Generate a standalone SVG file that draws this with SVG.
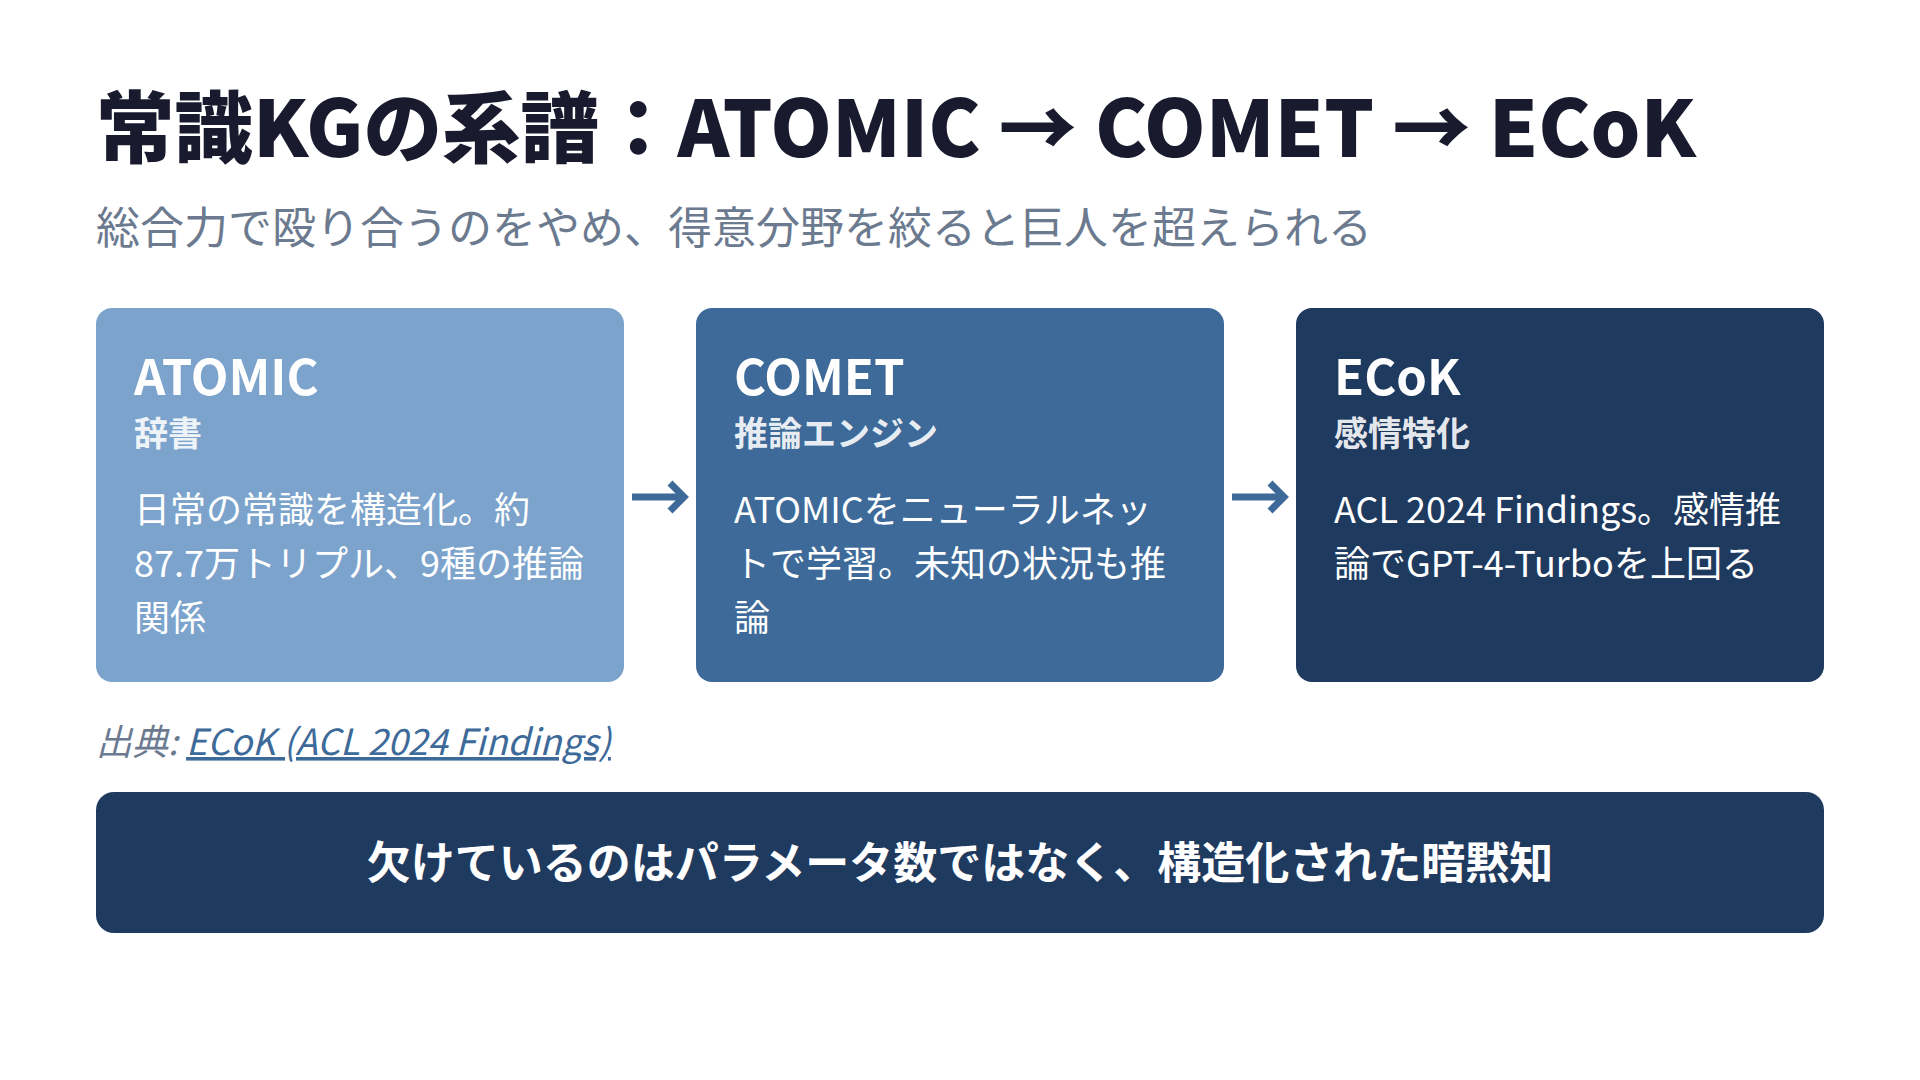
<svg xmlns="http://www.w3.org/2000/svg" width="1920" height="1080" viewBox="0 0 1920 1080">
<style>
text{font-family:"Noto Sans CJK JP","Noto Sans",sans-serif}
.title{font-size:78.5px;font-weight:900;fill:#1a1a2e}
.sub{font-size:44px;font-weight:400;fill:#6b7a8f}
.ct{font-size:49px;font-weight:700;fill:#ffffff}
.cs{font-size:34px;font-weight:700;fill:#ffffff;fill-opacity:0.9}
.cb{font-size:36px;font-weight:400;fill:#ffffff}
.cite{font-size:36px;font-style:italic;fill:#6b7a8f}
.link{fill:#3d6a99;text-decoration:underline}
.banner-t{font-size:44px;font-weight:700;fill:#ffffff}
.conn{stroke:#3d6a99;stroke-width:7;fill:none}
</style>
<defs>
<marker id="ah" markerUnits="userSpaceOnUse" markerWidth="24" markerHeight="36" refX="18" refY="18" orient="auto">
<polyline points="4,4 18,18 4,32" fill="none" stroke="#3d6a99" stroke-width="7"/>
</marker>
</defs>
<rect width="1920" height="1080" fill="#ffffff"/>
<g id="header">
<text class="title" x="96" y="157">常識KGの系譜：ATOMIC → COMET → ECoK</text>
<text class="sub" x="96" y="244">総合力で殴り合うのをやめ、得意分野を絞ると巨人を超えられる</text>
</g>
<g id="node-atomic">
<rect x="96" y="308" width="528" height="374" rx="16" fill="#7ba3cc"/>
<text class="ct" x="134" y="395">ATOMIC</text>
<text class="cs" x="134" y="446">辞書</text>
<text class="cb" x="134" y="523">日常の常識を構造化。約</text>
<text class="cb" x="134" y="577">87.7万トリプル、9種の推論</text>
<text class="cb" x="134" y="631">関係</text>
</g>
<g id="node-comet">
<rect x="696" y="308" width="528" height="374" rx="16" fill="#3d6a99"/>
<text class="ct" x="734" y="395">COMET</text>
<text class="cs" x="734" y="446">推論エンジン</text>
<text class="cb" x="734" y="523">ATOMICをニューラルネッ</text>
<text class="cb" x="734" y="577">トで学習。未知の状況も推</text>
<text class="cb" x="734" y="631">論</text>
</g>
<g id="node-ecok">
<rect x="1296" y="308" width="528" height="374" rx="16" fill="#1f3a5f"/>
<text class="ct" x="1334" y="395">ECoK</text>
<text class="cs" x="1334" y="446">感情特化</text>
<text class="cb" x="1334" y="523">ACL 2024 Findings。感情推</text>
<text class="cb" x="1334" y="577">論でGPT-4-Turboを上回る</text>
</g>
<g id="connectors">
<line class="conn" x1="632" y1="497" x2="684" y2="497" marker-end="url(#ah)"/>
<line class="conn" x1="1232" y1="497" x2="1284" y2="497" marker-end="url(#ah)"/>
</g>
<g id="citation">
<text class="cite" x="96" y="755">出典: <tspan class="link">ECoK (ACL 2024 Findings)</tspan></text>
</g>
<g id="banner">
<rect x="96" y="792" width="1728" height="141" rx="18" fill="#1f3a5f"/>
<text class="banner-t" x="960" y="879" text-anchor="middle">欠けているのはパラメータ数ではなく、構造化された暗黙知</text>
</g>
</svg>
